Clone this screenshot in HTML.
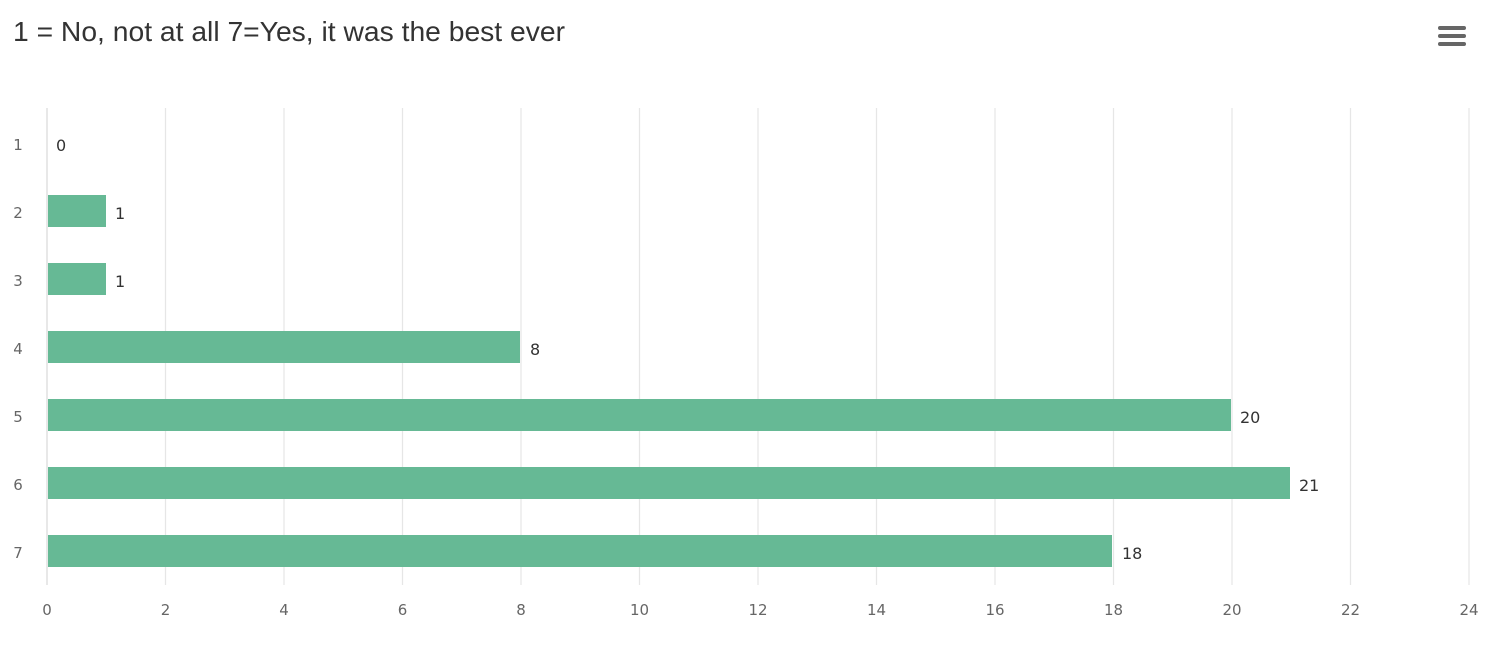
<!DOCTYPE html>
<html><head><meta charset="utf-8"><style>
html,body{margin:0;padding:0;background:#fff;}
svg{display:block;font-family:"DejaVu Sans","Liberation Sans",sans-serif;}
</style></head><body>
<svg width="1500" height="649" viewBox="0 0 1500 649" xmlns="http://www.w3.org/2000/svg">
<text x="13" y="41" font-family="Liberation Sans, sans-serif" font-size="28" fill="#333" textLength="552" lengthAdjust="spacingAndGlyphs">1 = No, not at all 7=Yes, it was the best ever</text>
<g fill="#666"><rect x="1438" y="26" width="28" height="4" rx="2"/><rect x="1438" y="34" width="28" height="4" rx="2"/><rect x="1438" y="42" width="28" height="4" rx="2"/></g>
<g stroke="#e6e6e6" stroke-width="1.2">
<line x1="165.5" y1="108" x2="165.5" y2="585"/><line x1="284" y1="108" x2="284" y2="585"/><line x1="402.5" y1="108" x2="402.5" y2="585"/><line x1="521" y1="108" x2="521" y2="585"/><line x1="639.5" y1="108" x2="639.5" y2="585"/><line x1="758" y1="108" x2="758" y2="585"/><line x1="876.5" y1="108" x2="876.5" y2="585"/><line x1="995" y1="108" x2="995" y2="585"/><line x1="1113.5" y1="108" x2="1113.5" y2="585"/><line x1="1232" y1="108" x2="1232" y2="585"/><line x1="1350.5" y1="108" x2="1350.5" y2="585"/><line x1="1469" y1="108" x2="1469" y2="585"/>
</g>
<line x1="47" y1="108" x2="47" y2="585" stroke="#d8d8d8" stroke-width="1.2"/>
<g fill="#66b995">
<rect x="48" y="195" width="58" height="32"/>
<rect x="48" y="263" width="58" height="32"/>
<rect x="48" y="331" width="472" height="32"/>
<rect x="48" y="399" width="1183" height="32"/>
<rect x="48" y="467" width="1242" height="32"/>
<rect x="48" y="535" width="1064" height="32"/>
</g>
<g font-size="16" fill="#333">
<text x="56" y="151">0</text>
<text x="115" y="219">1</text>
<text x="115" y="287">1</text>
<text x="530" y="355">8</text>
<text x="1240" y="423">20</text>
<text x="1299" y="491">21</text>
<text x="1122" y="559">18</text>
</g>
<g font-size="15" fill="#666" text-anchor="middle">
<text x="18" y="150">1</text><text x="18" y="218">2</text><text x="18" y="286">3</text><text x="18" y="354">4</text><text x="18" y="422">5</text><text x="18" y="490">6</text><text x="18" y="558">7</text>
<text x="47" y="615">0</text><text x="165.5" y="615">2</text><text x="284" y="615">4</text><text x="402.5" y="615">6</text><text x="521" y="615">8</text><text x="639.5" y="615">10</text><text x="758" y="615">12</text><text x="876.5" y="615">14</text><text x="995" y="615">16</text><text x="1113.5" y="615">18</text><text x="1232" y="615">20</text><text x="1350.5" y="615">22</text><text x="1469" y="615">24</text>
</g>
</svg>
</body></html>
